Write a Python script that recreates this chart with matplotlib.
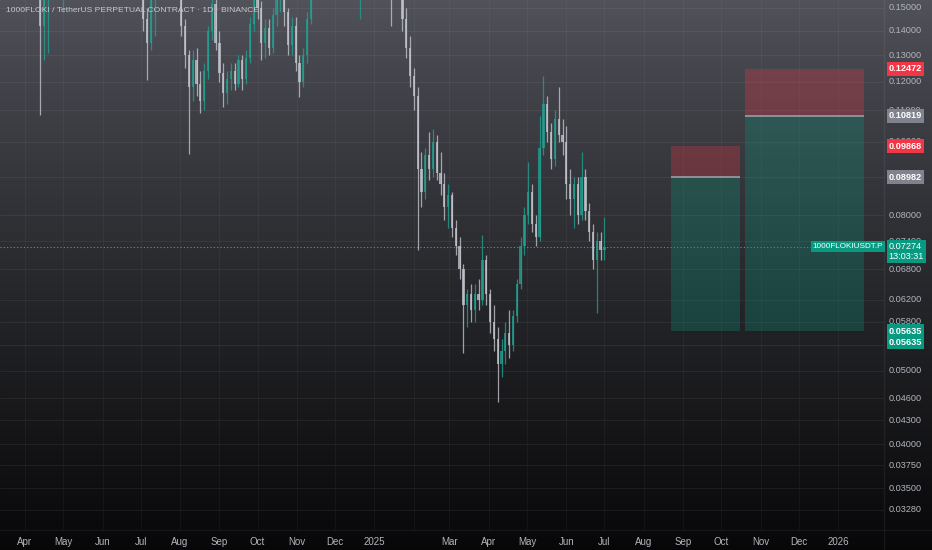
import numpy as np
import pandas as pd
import matplotlib
matplotlib.use('Agg')
import matplotlib.pyplot as plt
import matplotlib.dates as mdates
from matplotlib.patches import Rectangle
from matplotlib.transforms import blended_transform_factory

# daily chart read every 3rd day (OHLC, open = previous close)
first_open = 0.23
close = [0.245, 0.27, 0.29, 0.275, 0.26, 0.235, 0.22, 0.25, 0.23, 0.205,
         0.142, 0.158, 0.172, 0.185, 0.175, 0.16, 0.176, 0.18, 0.185, 0.175,
         0.19, 0.2, 0.215, 0.225, 0.24, 0.28, 0.3, 0.27, 0.245, 0.22,
         0.2, 0.205, 0.19, 0.18, 0.185, 0.175, 0.172, 0.145, 0.135, 0.16,
         0.168, 0.175, 0.182, 0.178, 0.172, 0.168, 0.16, 0.142, 0.13, 0.118,
         0.128, 0.119, 0.113, 0.124, 0.14, 0.152, 0.135, 0.123, 0.116, 0.121,
         0.124, 0.119, 0.128, 0.121, 0.129, 0.143, 0.156, 0.15, 0.135, 0.141,
         0.133, 0.147, 0.156, 0.162, 0.148, 0.134, 0.142, 0.127, 0.12, 0.13,
         0.145, 0.16, 0.18, 0.2, 0.225, 0.24, 0.23, 0.25, 0.24, 0.262,
         0.28, 0.265, 0.22, 0.168, 0.178, 0.19, 0.2, 0.21, 0.192, 0.2,
         0.182, 0.17, 0.16, 0.17, 0.162, 0.145, 0.133, 0.122, 0.115, 0.092,
         0.086, 0.096, 0.092, 0.1, 0.091, 0.088, 0.082, 0.085, 0.077, 0.073,
         0.068, 0.061, 0.063, 0.06, 0.063, 0.062, 0.07, 0.063, 0.058, 0.055,
         0.051, 0.053, 0.056, 0.054, 0.059, 0.065, 0.073, 0.08, 0.086, 0.078,
         0.075, 0.098, 0.112, 0.103, 0.095, 0.107, 0.102, 0.1, 0.088, 0.084,
         0.088, 0.08, 0.09, 0.081, 0.076, 0.07, 0.074, 0.072, 0.07274]
high = [0.26, 0.285, 0.305, 0.3, 0.28, 0.265, 0.24, 0.26, 0.255, 0.235,
        0.212, 0.162, 0.18, 0.19, 0.192, 0.195, 0.18, 0.188, 0.192, 0.19,
        0.195, 0.207, 0.222, 0.232, 0.25, 0.29, 0.315, 0.305, 0.275, 0.25,
        0.225, 0.215, 0.212, 0.195, 0.19, 0.19, 0.18, 0.176, 0.15, 0.165,
        0.172, 0.18, 0.19, 0.188, 0.183, 0.178, 0.172, 0.162, 0.145, 0.132,
        0.132, 0.133, 0.124, 0.127, 0.142, 0.158, 0.155, 0.14, 0.127, 0.124,
        0.127, 0.127, 0.13, 0.13, 0.132, 0.146, 0.16, 0.162, 0.153, 0.145,
        0.145, 0.15, 0.16, 0.168, 0.165, 0.15, 0.146, 0.146, 0.13, 0.133,
        0.148, 0.165, 0.19, 0.205, 0.235, 0.255, 0.25, 0.26, 0.258, 0.27,
        0.295, 0.29, 0.27, 0.225, 0.185, 0.198, 0.21, 0.22, 0.215, 0.207,
        0.205, 0.186, 0.175, 0.176, 0.175, 0.166, 0.15, 0.138, 0.125, 0.118,
        0.097, 0.098, 0.103, 0.104, 0.102, 0.097, 0.091, 0.088, 0.086, 0.079,
        0.075, 0.069, 0.064, 0.065, 0.065, 0.066, 0.0755, 0.071, 0.064, 0.061,
        0.057, 0.055, 0.058, 0.06, 0.06, 0.066, 0.075, 0.082, 0.094, 0.088,
        0.08, 0.108, 0.122, 0.115, 0.106, 0.11, 0.118, 0.107, 0.105, 0.092,
        0.09, 0.09, 0.097, 0.092, 0.083, 0.078, 0.076, 0.076, 0.0797]
low = [0.225, 0.24, 0.265, 0.26, 0.24, 0.225, 0.205, 0.215, 0.22, 0.195,
       0.1085, 0.128, 0.131, 0.165, 0.168, 0.158, 0.148, 0.168, 0.174, 0.17,
       0.172, 0.186, 0.197, 0.21, 0.222, 0.235, 0.27, 0.262, 0.24, 0.215,
       0.195, 0.195, 0.185, 0.172, 0.176, 0.168, 0.163, 0.14, 0.1205, 0.132,
       0.138, 0.157, 0.17, 0.17, 0.165, 0.16, 0.156, 0.138, 0.125, 0.0965,
       0.113, 0.115, 0.109, 0.11, 0.121, 0.136, 0.132, 0.12, 0.111, 0.112,
       0.117, 0.117, 0.118, 0.117, 0.119, 0.127, 0.14, 0.145, 0.128, 0.129,
       0.13, 0.131, 0.142, 0.148, 0.142, 0.13, 0.13, 0.124, 0.1145, 0.118,
       0.127, 0.143, 0.156, 0.175, 0.195, 0.215, 0.22, 0.225, 0.232, 0.235,
       0.255, 0.255, 0.21, 0.16, 0.145, 0.172, 0.185, 0.195, 0.186, 0.188,
       0.176, 0.163, 0.142, 0.156, 0.155, 0.14, 0.129, 0.118, 0.11, 0.072,
       0.082, 0.084, 0.089, 0.09, 0.089, 0.085, 0.079, 0.077, 0.075, 0.071,
       0.066, 0.0528, 0.057, 0.058, 0.058, 0.06, 0.061, 0.061, 0.056, 0.053,
       0.0455, 0.049, 0.051, 0.052, 0.053, 0.058, 0.064, 0.071, 0.078, 0.076,
       0.073, 0.074, 0.096, 0.1, 0.092, 0.093, 0.1, 0.096, 0.084, 0.08,
       0.077, 0.078, 0.079, 0.079, 0.074, 0.068, 0.0595, 0.07, 0.07]
dates = pd.date_range('2024-03-14', periods=len(close), freq='3D')

price_ticks = [0.15, 0.14, 0.13, 0.12, 0.11, 0.10, 0.09, 0.08, 0.074, 0.068, 0.062,
               0.058, 0.054, 0.05, 0.046, 0.043, 0.04, 0.0375, 0.035, 0.0328]
hidden_ticks = [0.09, 0.054]   # covered by the position labels
month_starts = pd.date_range('2024-04-01', '2026-01-01', freq='MS')
month_labels = ['Apr', 'May', 'Jun', 'Jul', 'Aug', 'Sep', 'Oct', 'Nov', 'Dec', '2025',
                '', 'Mar', 'Apr', 'May', 'Jun', 'Jul', 'Aug', 'Sep', 'Oct', 'Nov', 'Dec', '2026']

# short position tools
pos_left = ['2025-08-22', '2025-10-20']
pos_right = ['2025-10-16', '2026-01-21']
entry = [0.08982, 0.10819]
stop = [0.09868, 0.12472]
target = [0.05635, 0.05635]
last_price = 0.07274

title = '1000FLOKI / TetherUS PERPETUAL CONTRACT · 1D · BINANCE'
up_col = '#22a192'
down_col = '#c3c6cd'
red = '#f23645'
green = '#089981'
grey_lbl = '#80838d'
txt_col = '#b2b5be'
font = 'Liberation Sans'

fig = plt.figure(figsize=(9.32, 5.5), dpi=100)

# background gradient
bg = fig.add_axes([0, 0, 1, 1])
top_c = np.array([0.32, 0.325, 0.355])
bot_c = np.array([0.03, 0.03, 0.035])
t = np.linspace(0, 1, 256)[:, None] ** 0.85
grad = top_c[None, :] * (1 - t) + bot_c[None, :] * t
bg.imshow(grad[:, None, :], aspect='auto', extent=[0, 1, 0, 1])
bg.axis('off')

ax = fig.add_axes([0, 20 / 550, 884 / 932, 530 / 550])
ax.set_facecolor('none')
ax.set_yscale('log')
ax.set_ylim(0.03084, 0.15368)
ax.set_xlim(mdates.date2num(pd.Timestamp('2024-03-12 08:00')),
            mdates.date2num(pd.Timestamp('2026-02-06')))
for s in ax.spines.values():
    s.set_visible(False)

# grid
ax.hlines(price_ticks, 0, 1, transform=blended_transform_factory(ax.transAxes, ax.transData),
          color='white', alpha=0.06, lw=0.8, zorder=0)
for m in month_starts:
    ax.axvline(m, color='white', alpha=0.04, lw=0.8, zorder=0)

# candles
o = np.array([first_open] + close[:-1])
c = np.array(close)
h = np.array(high)
l = np.array(low)
cols = [up_col if cc >= oo else down_col for oo, cc in zip(o, c)]
ax.vlines(dates, l, h, colors=cols, lw=0.9, alpha=0.78, zorder=3)
ax.bar(dates, np.abs(c - o), bottom=np.minimum(o, c), width=1.8, color=cols,
       alpha=0.78, lw=0, zorder=3)

# position boxes
for i in range(len(entry)):
    x0 = mdates.date2num(pd.Timestamp(pos_left[i]))
    x1 = mdates.date2num(pd.Timestamp(pos_right[i]))
    ax.add_patch(Rectangle((x0, entry[i]), x1 - x0, stop[i] - entry[i],
                           fc=red, alpha=0.28, lw=0, zorder=2))
    ax.add_patch(Rectangle((x0, target[i]), x1 - x0, entry[i] - target[i],
                           fc=green, alpha=0.28, lw=0, zorder=2))
    ax.hlines(entry[i], x0, x1, color='#9a9da6', lw=1.2, zorder=4)

ax.axhline(last_price, color='#6f8f8a', lw=0.8, ls=(0, (1, 2)), zorder=1)
ax.text(0.999, last_price, '1000FLOKIUSDT.P', transform=blended_transform_factory(ax.transAxes, ax.transData),
        ha='right', va='center', fontsize=5.9, color='white', family=font, zorder=6,
        bbox=dict(boxstyle='square,pad=0.25', fc=green, ec='none'))

ax.set_xticks(month_starts)
ax.set_xticklabels(month_labels)
ax.minorticks_off()
ax.tick_params(axis='x', length=0, pad=5, labelsize=7, labelcolor=txt_col)
for lb in ax.get_xticklabels():
    lb.set_family(font)
ax.tick_params(axis='y', which='both', left=False, labelleft=False)

fig.text(6 / 932, 1 - 11 / 550, title, fontsize=6.1, color='#c6c8ce', va='center', family=font)

# price scale
pax = fig.add_axes([884 / 932, 20 / 550, 48 / 932, 530 / 550])
pax.set_yscale('log')
pax.set_ylim(ax.get_ylim())
pax.set_xlim(0, 1)
pax.axis('off')
bt = blended_transform_factory(pax.transAxes, pax.transData)
for p in price_ticks:
    if p in hidden_ticks:
        continue
    pax.text(0.1, p, f'{p:.5f}', transform=bt, ha='left', va='center', fontsize=6.6,
             color=txt_col, family=font, zorder=2)

def price_label(p, fc, dy=0):
    pax.annotate(f'{p:.5f}', xy=(0.1, p), xycoords=bt, xytext=(0, dy), textcoords='offset pixels',
                 ha='left', va='center', fontsize=6.6, color='white', family=font,
                 fontweight='bold', zorder=5,
                 bbox=dict(boxstyle='square,pad=0.25', fc=fc, ec='none'))

for i in range(len(entry)):
    price_label(stop[i], red)
    price_label(entry[i], grey_lbl)
price_label(target[0], green)
price_label(target[1], green, dy=-11)
pax.annotate(f'{last_price:.5f}\n13:03:31', xy=(0.1, last_price), xycoords=bt, xytext=(0, 5),
             textcoords='offset pixels', ha='left', va='top', fontsize=6.6, color='white',
             family=font, linespacing=1.15, zorder=5,
             bbox=dict(boxstyle='square,pad=0.25', fc=green, ec='none'))

fig.add_artist(plt.Line2D([884 / 932, 884 / 932], [0, 1], color='white', alpha=0.06, lw=1))
fig.add_artist(plt.Line2D([0, 1], [20 / 550, 20 / 550], color='white', alpha=0.06, lw=1))

fig.savefig('out.png', dpi=100)
